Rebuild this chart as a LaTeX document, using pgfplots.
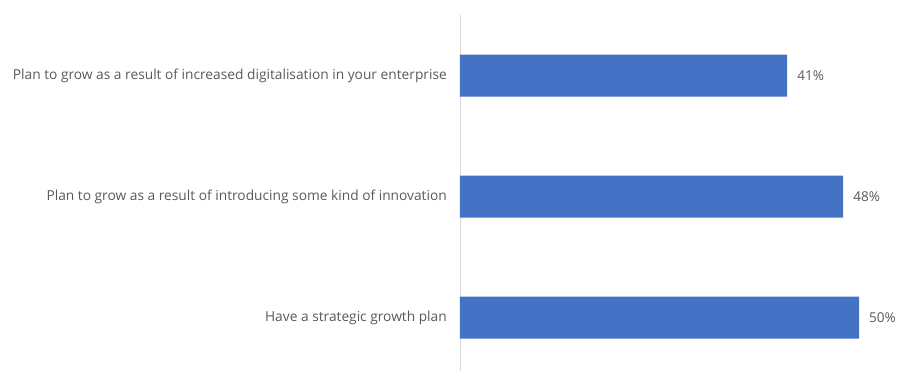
\documentclass[border=0pt]{standalone}
\usepackage{fontspec}
\setmainfont{Open Sans}
\usepackage{pgfplots}
\pgfplotsset{compat=1.18}
\usetikzlibrary{calc}
\definecolor{barblue}{HTML}{4472C4}
\definecolor{txtgray}{HTML}{595959}
\definecolor{axgray}{HTML}{D9D9D9}
\begin{document}
\begin{tikzpicture}
\begin{axis}[name=ax, scale only axis, width=437bp, height=356bp,
  xbar, bar width=42bp, xmin=0, xmax=54.76, ymin=-0.442, ymax=2.5,
  axis x line=none, axis y line*=left, y axis line style={axgray, line width=0.8pt},
  ytick={0,1,2}, major tick length=0pt,
  yticklabels={Have a strategic growth plan,
    Plan to grow as a result of introducing some kind of innovation,
    Plan to grow as a result of increased digitalisation in your enterprise},
  yticklabel style={font=\fontsize{13.8}{15}\selectfont, text=txtgray, inner sep=0pt, xshift=-13bp},
  nodes near coords={\pgfplotspointmeta\%},
  nodes near coords style={font=\fontsize{13.6}{15}\selectfont, text=txtgray, anchor=west, inner sep=0pt, xshift=10bp},
  point meta=explicit symbolic]
\addplot[fill=barblue, draw=none] coordinates {(50,0) [50] (48,1) [48] (41,2) [41]};
\end{axis}
\path[use as bounding box] ($(ax.south west)+(-460bp,0)$) rectangle ($(ax.north east)+(0,15bp)$);
\end{tikzpicture}
\end{document}
